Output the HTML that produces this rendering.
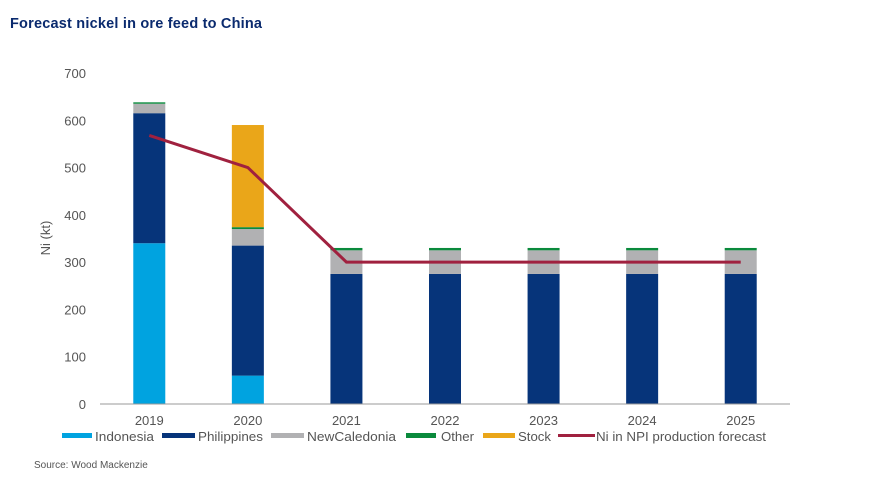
<!DOCTYPE html>
<html><head><meta charset="utf-8"><style>
body{margin:0;background:#fff;font-family:"Liberation Sans",sans-serif}
svg text{font-family:"Liberation Sans",sans-serif}
</style></head><body>
<svg id="c" width="871" height="494">
<text x="10" y="28" font-size="14.5" font-weight="bold" fill="#0a2a6e" textLength="252">Forecast nickel in ore feed to China</text>
<text x="50" y="238" font-size="13" fill="#555" transform="rotate(-90 50 238)" text-anchor="middle">Ni (kt)</text>
<text x="34" y="468" font-size="10" fill="#555">Source: Wood Mackenzie</text>
<g id="plot"></g>
<g id="legend"></g>
</svg>
<script>
const categories=["2019","2020","2021","2022","2023","2024","2025"];
const indonesia=[340,60,0,0,0,0,0];
const philippines=[275,275,275,275,275,275,275];
const newCaledonia=[20,35,50,50,50,50,50];
const other=[3,4,5,5,5,5,5];
const stock=[0,216,0,0,0,0,0];
const npiForecast=[568,500,300,300,300,300,300];
const yTicks=[0,100,200,300,400,500,600,700];
const series=[["indonesia",indonesia,"#00a3e0","Indonesia"],["philippines",philippines,"#06347a","Philippines"],["new-caledonia",newCaledonia,"#b1b1b3","NewCaledonia"],["other",other,"#0a8a3c","Other"],["stock",stock,"#eaa619","Stock"]];
const NS="http://www.w3.org/2000/svg";
const x0=100,x1=790,y0=404,yTop=73,ymax=700;
const step=(x1-x0)/categories.length;
const xc=i=>x0+step*(i+0.5);
const y=v=>y0-(v/ymax)*(y0-yTop);
const plot=document.getElementById('plot');
function mk(t,a,p){const e=document.createElementNS(NS,t);for(const k in a)e.setAttribute(k,a[k]);(p||plot).appendChild(e);return e;}
yTicks.forEach(t=>{const e=mk('text',{x:86,y:y(t)+5,'font-size':13,fill:'#555','text-anchor':'end'});e.textContent=t;

});
categories.forEach((c,i)=>{const e=mk('text',{x:xc(i),y:425,'font-size':13,fill:'#555','text-anchor':'middle'});e.textContent=c;

});
const bw=32;
categories.forEach((c,i)=>{let acc=0;series.forEach(s=>{const v=s[1][i];if(v>0){const r=mk('rect',{x:xc(i)-bw/2,y:y(acc+v),width:bw,height:y(acc)-y(acc+v),fill:s[2]});

}acc+=v;});});
const ax=mk('line',{x1:x0,y1:y0,x2:x1,y2:y0,stroke:'#999','stroke-width':1});


const ln=mk('polyline',{points:npiForecast.map((v,i)=>xc(i)+','+y(v)).join(' '),fill:'none',stroke:'#a0213f','stroke-width':3});


const lg=document.getElementById('legend');
const items=[[62,92,"#00a3e0","Indonesia",95,59],[162,195,"#06347a","Philippines",198,65],[271,304,"#b1b1b3","NewCaledonia",307,89],[406,436,"#0a8a3c","Other",441,33],[483,515,"#eaa619","Stock",518,33],[558,595,"#a0213f","Ni in NPI production forecast",596,170]];
items.forEach((it,k)=>{const r=mk('rect',{x:it[0],y:k==5?434:433,width:it[1]-it[0],height:k==5?3:5,fill:it[2]},lg);


const t=mk('text',{x:it[4],y:441,'font-size':12.5,fill:'#555',textLength:it[5],lengthAdjust:'spacingAndGlyphs'},lg);t.textContent=it[3];

});
</script>
</body></html>
